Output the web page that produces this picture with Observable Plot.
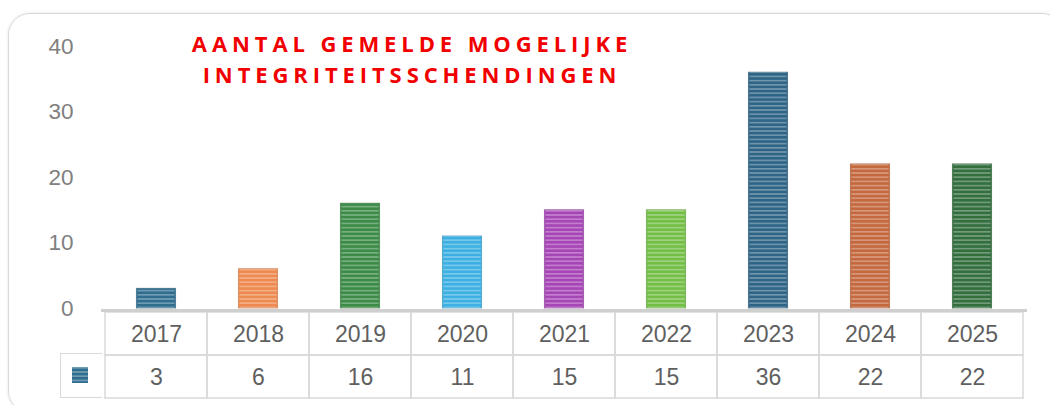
<!DOCTYPE html>
<html>
<head>
<meta charset="utf-8">
<script src="https://cdn.jsdelivr.net/npm/d3@7"></script>
<script src="https://cdn.jsdelivr.net/npm/@observablehq/plot@0.6"></script>
<style>
  html, body { margin: 0; padding: 0; background: #fff; }
  #wrap { position: relative; width: 1050px; height: 405px; overflow: hidden; font-family: "Liberation Sans", Arial, sans-serif; }
  #frame { position: absolute; left: 8px; top: 13px; width: 1056px; height: 400px; border: 1.5px solid #dadada; border-radius: 22px; box-shadow: 0 0 3px rgba(0,0,0,0.12); box-sizing: border-box; }
  #title { position: absolute; left: 112px; width: 600px; top: 28px; text-align: center; font-family: "Open Sans", sans-serif; font-weight: 700; font-size: 22px; letter-spacing: 4.9px; line-height: 31px; color: #f20000; }
  #chart { position: absolute; left: 0; top: 0; }
  #table { position: absolute; left: 0; top: 310px; }
  #legend { position: absolute; left: 60px; top: 353px; width: 42px; height: 45px; border: 1.5px solid #d9d9d9; border-right: none; box-sizing: border-box; }
  #legend svg { position: absolute; left: 11px; top: 13px; }
</style>
</head>
<body>
<svg width="0" height="0" style="position:absolute">
  <defs>
    <pattern id="stripes" patternUnits="userSpaceOnUse" width="8" height="4.2">
      <rect x="0" y="0" width="8" height="1.6" fill="#ffffff" fill-opacity="0.32"></rect>
    </pattern>
  </defs>
</svg>
<div id="wrap">
  <div id="frame"></div>
  <div id="table"></div>
  <div id="chart"></div>
  <div id="legend"></div>
  <div id="title">AANTAL GEMELDE MOGELIJKE<br>INTEGRITEITSSCHENDINGEN</div>
</div>
<script>
// ---- data ----
const years = ["2017", "2018", "2019", "2020", "2021", "2022", "2023", "2024", "2025"];
const counts = [3, 6, 16, 11, 15, 15, 36, 22, 22];
const yTicks = [0, 10, 20, 30, 40];
const barColors = ["#2f6e8f", "#ee8a4f", "#3b8b46", "#3cb0e2", "#a645b5", "#73be45", "#2e6586", "#c4683e", "#336e3d"];
const rowKeys = ["jaar", "aantal"];

const data = years.map((y, i) => ({year: y, count: counts[i], color: barColors[i]}));

const W = 1050, ML = 101, MR = 23;
const band = (W - ML - MR) / years.length;
const barInset = (band - 40) / 2;
const textColor = "#5f5f5f";

// ---- chart ----
const chart = Plot.plot({
  width: W,
  height: 312,
  marginLeft: ML,
  marginRight: MR,
  marginTop: 46,
  marginBottom: 4,
  style: {fontFamily: "'Liberation Sans', Arial, sans-serif", fontSize: "22.5px", color: "#808080", background: "transparent", overflow: "visible"},
  x: {domain: years, padding: 0, axis: null},
  y: {domain: [0, 40], ticks: yTicks, tickSize: 0, tickPadding: 28, label: null},
  marks: [
    Plot.barY(data, {x: "year", y: "count", fill: d => d.color, stroke: d => d3.color(d.color).darker(0.6).formatHex(), strokeWidth: 1, strokeOpacity: 0.6, insetLeft: barInset, insetRight: barInset}),
    Plot.barY(data, {x: "year", y: "count", fill: "url(#stripes)", insetLeft: barInset + 1, insetRight: barInset + 1}),
    Plot.ruleY([0], {stroke: "#cfcfcf", strokeWidth: 3, dy: 2})
  ]
});
document.getElementById("chart").appendChild(chart);

// ---- data table ----
const cells = [];
data.forEach(d => {
  cells.push({year: d.year, row: "jaar", label: d.year});
  cells.push({year: d.year, row: "aantal", label: String(d.count)});
});
const table = Plot.plot({
  width: W,
  height: 90,
  marginLeft: ML,
  marginRight: MR,
  marginTop: 1,
  marginBottom: 2,
  style: {fontFamily: "'Liberation Sans', Arial, sans-serif", fontSize: "23px", background: "transparent"},
  x: {domain: years, padding: 0, axis: null},
  y: {domain: rowKeys, padding: 0, axis: null},
  marks: [
    Plot.cell(cells, {x: "year", y: "row", fill: "none", stroke: "#d9d9d9", strokeWidth: 1.5}),
    Plot.text(cells, {x: "year", y: "row", text: "label", fill: textColor, fontSize: 23, dy: 1})
  ]
});
document.getElementById("table").appendChild(table);

// ---- legend swatch ----
const sw = d3.create("svg").attr("width", 16).attr("height", 16);
sw.append("rect").attr("width", 16).attr("height", 16).attr("fill", barColors[0]);
sw.append("rect").attr("width", 16).attr("height", 16).attr("fill", "url(#stripes)");
document.getElementById("legend").appendChild(sw.node());
</script>
</body>
</html>
